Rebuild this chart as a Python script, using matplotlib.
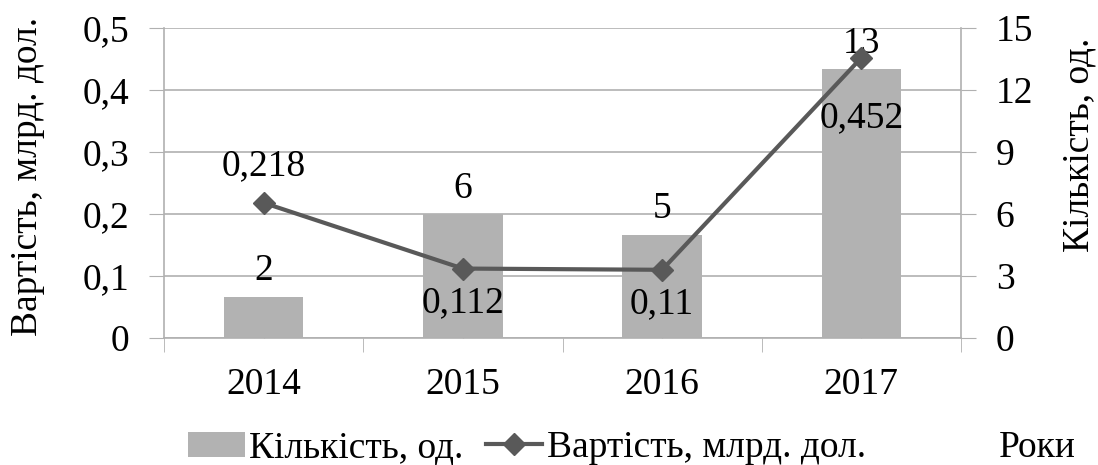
import matplotlib
matplotlib.use("Agg")
import matplotlib.pyplot as plt
import numpy as np

years = ["2014", "2015", "2016", "2017"]
count = [2, 6, 5, 13]
value = [0.218, 0.112, 0.11, 0.452]
value_labels = ["0,218", "0,112", "0,11", "0,452"]
left_ticks = [0, 0.1, 0.2, 0.3, 0.4, 0.5]
left_tick_labels = ["0", "0,1", "0,2", "0,3", "0,4", "0,5"]
right_ticks = [0, 3, 6, 9, 12, 15]

plt.rcParams['font.family'] = ['Liberation Serif', 'DejaVu Serif']
FS = 27

W, H = 1098, 465
fig = plt.figure(figsize=(W / 100, H / 100), dpi=100)
L, R, B, T = 164, 961, 338, 28
rect = [L / W, 1 - B / H, (R - L) / W, (B - T) / H]

ax2 = fig.add_axes(rect)  # bars, right scale
ax1 = fig.add_axes(rect, sharex=ax2)  # line, left scale
ax1.set_zorder(ax2.get_zorder() + 1)
ax1.patch.set_visible(False)

x = np.arange(len(years))
bar_color = "#b2b2b2"
line_color = "#595959"
grid_color = "#b0b0b0"

# bars on right axis
bars = ax2.bar(x, count, width=0.4, color=bar_color, zorder=2, label="Кількість, од.")
ax2.set_ylim(0, 15)
ax2.set_yticks(right_ticks)
ax2.set_yticklabels([str(t) for t in right_ticks])
ax2.yaxis.tick_right()
ax2.grid(axis="y", color=grid_color, linewidth=1.2, zorder=0)
ax2.set_axisbelow(True)
for xi, c in zip(x, count):
    ax2.annotate(str(c), (xi, c), xytext=(0, 6), textcoords="offset points",
                 ha="center", va="bottom", fontsize=FS)

# line on left axis
ln, = ax1.plot(x, value, color=line_color, linewidth=3, marker="D", markersize=11,
               label="Вартість, млрд. дол.", zorder=3)
ax1.set_ylim(0, 0.5)
ax1.set_yticks(left_ticks)
ax1.set_yticklabels(left_tick_labels)
offsets = [(0, 14, "bottom"), (0, -12, "top"), (0, -12, "top"), (0, -31, "top")]
for xi, v, lab, (dx, dy, va) in zip(x, value, value_labels, offsets):
    ax1.annotate(lab, (xi, v), xytext=(dx, dy), textcoords="offset points",
                 ha="center", va=va, fontsize=FS)

ax2.set_xlim(-0.5, 3.5)
ax2.set_xticks(x)
ax2.set_xticklabels(years)
ax2.set_xticks(np.arange(-0.5, 4, 1), minor=True)
ax2.tick_params(axis="x", which="major", direction="in", length=6, color=grid_color,
                labelsize=FS, pad=21)
ax2.tick_params(axis="x", which="minor", direction="out", length=10, color=grid_color)
ax2.tick_params(axis="y", direction="out", length=11, color=grid_color, labelsize=FS, pad=14)
ax1.tick_params(axis="y", direction="out", length=11, color=grid_color, labelsize=FS, pad=14)
ax1.tick_params(axis="x", which="both", bottom=False, labelbottom=False)

for a in (ax1, ax2):
    for s in a.spines.values():
        s.set_visible(False)
ax2.spines["bottom"].set_visible(True)
ax2.spines["bottom"].set_color(grid_color)
ax2.spines["bottom"].set_linewidth(1.2)
ax2.spines["right"].set_visible(True)
ax2.spines["right"].set_color(grid_color)
ax2.spines["right"].set_linewidth(1.2)
ax1.spines["left"].set_visible(True)
ax1.spines["left"].set_color(grid_color)
ax1.spines["left"].set_linewidth(1.2)

fig.text(28 / W, 1 - 176 / H, "Вартість, млрд. дол.", rotation=90, ha="center", va="center", fontsize=FS)
fig.text(1079 / W, 1 - 145 / H, "Кількість, од.", rotation=90, ha="center", va="center", fontsize=FS)
fig.text(1037 / W, 1 - 448 / H, "Роки", ha="center", va="center", fontsize=FS)

leg = fig.legend(handles=[bars, ln], loc="center", bbox_to_anchor=(527 / W, 1 - 448 / H),
                 ncol=2, frameon=False, fontsize=FS, handlelength=1.5, handletextpad=0.12,
                 columnspacing=0.6, borderpad=0, handleheight=0.65)

fig.savefig("out.png", dpi=100)
